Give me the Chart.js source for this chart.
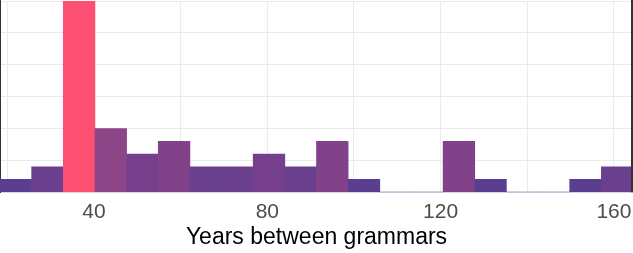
<!DOCTYPE html>
<html>
<head>
<meta charset="utf-8">
<script src="https://cdn.jsdelivr.net/npm/chart.js@4"></script>
<style>
  html, body { margin: 0; padding: 0; background: #fff; }
  #wrap { width: 633px; height: 253px; }
</style>
</head>
<body>
<div id="wrap"><canvas id="histChart"></canvas></div>
<script>
/* ---------- Data ---------- */
const binCenters = [21.95, 29.26, 36.56, 43.87, 51.17, 58.48, 65.78, 73.09, 80.39, 87.70,
                    95.00, 102.31, 109.61, 116.92, 124.22, 131.53, 138.83, 146.14, 153.44, 160.75];
const counts     = [1, 2, 22, 5, 3, 4, 2, 2, 3, 2,
                    4, 1, 0, 0, 4, 1, 0, 0, 1, 2];
const tickLabels = [40, 80, 120, 160];
const xTitle = 'Years between grammars';

// fill colour by count (low = blue-purple, max = pink-red)
const fillByCount = { 0: '#5b3e8f', 1: '#5b3e8f', 2: '#693f8e', 3: '#763f8b', 4: '#82428a', 5: '#8c4587' };
const maxCount = Math.max(...counts);
const barColors = counts.map(c => c === maxCount ? '#fe5073' : fillByCount[c]);

// dark edge on the right side of the panel
const rightEdge = {
  id: 'rightEdge',
  afterDraw(chart) {
    const { ctx, chartArea } = chart;
    ctx.save();
    ctx.strokeStyle = '#333';
    ctx.lineWidth = 2;
    ctx.beginPath();
    ctx.moveTo(chartArea.right - 1, chartArea.top - 1);
    ctx.lineTo(chartArea.right - 1, chartArea.bottom);
    ctx.stroke();
    ctx.restore();
  }
};

/* ---------- Chart ---------- */
window.onload = function () {
  const ctx = document.getElementById('histChart').getContext('2d');

  new Chart(ctx, {
    type: 'bar',
    data: {
      datasets: [{
        data: binCenters.map((x, i) => ({ x: x, y: counts[i] })),
        backgroundColor: barColors,
        borderWidth: 0,
        barPercentage: 1.0,
        categoryPercentage: 1.0
      }]
    },
    options: {
      responsive: true,
      maintainAspectRatio: false,
      animation: false,
      layout: { padding: { top: 1, left: 0, right: 0, bottom: 0 } },
      plugins: { legend: { display: false }, tooltip: { enabled: false } },
      scales: {
        x: {
          type: 'linear',
          offset: false,
          min: 18.3,
          max: 164.4,
          afterFit(scale) { scale.paddingLeft = 0; scale.paddingRight = 0; },
          grid: { color: '#ebebeb', lineWidth: 1, drawTicks: false, offset: false },
          border: { color: '#d9d2e9', width: 1 },
          ticks: {
            stepSize: 20,
            includeBounds: false,
            autoSkip: false,
            maxRotation: 0,
            padding: 7,
            color: '#4d4d4d',
            font: { family: '"Liberation Sans", Arial, sans-serif', size: 21 },
            callback: v => tickLabels.includes(v) ? String(v) : ''
          },
          title: {
            display: true,
            text: xTitle,
            color: '#000',
            padding: { top: -8, bottom: 2 },
            font: { family: '"Liberation Sans", Arial, sans-serif', size: 23 }
          }
        },
        y: {
          min: 0,
          max: 15,
          grid: { color: '#ebebeb', lineWidth: 1, drawTicks: false },
          border: { color: '#333', width: 2 },
          ticks: { display: false, stepSize: 2.5 }
        }
      }
    },
    plugins: [rightEdge]
  });
};
</script>
</body>
</html>
